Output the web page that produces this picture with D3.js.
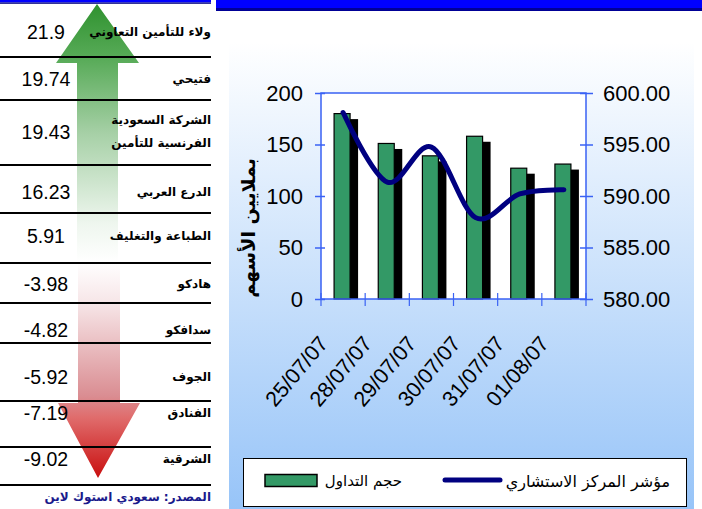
<!DOCTYPE html>
<html>
<head>
<meta charset="utf-8">
<script src="https://cdn.jsdelivr.net/npm/d3@7"></script>
<style>
  body { margin: 0; background: #fff; }
  svg { display: block; font-family: "Liberation Sans", Arial, sans-serif; }
  .ar { font-family: "DejaVu Sans", sans-serif; }
</style>
</head>
<body>
<div id="chart"></div>
<script>
// top movers table
const companies = [
    'ولاء للتأمين التعاوني',
    'فتيحي',
    'الشركة السعودية|الفرنسية للتأمين',
    'الدرع العربي',
    'الطباعة والتغليف',
    'هادكو',
    'سدافكو',
    'الجوف',
    'الفنادق',
    'الشرقية'
];
const changes = [21.9, 19.74, 19.43, 16.23, 5.91, -3.98, -4.82, -5.92, -7.19, -9.02];
const sourceText = 'المصدر: سعودي استوك لاين';

// chart
const dates = ['25/07/07', '28/07/07', '29/07/07', '30/07/07', '31/07/07', '01/08/07'];
const volume = [180, 151, 139, 158, 127, 131];
const indexValues = [598.1, 591.35, 594.75, 587.9, 590.2, 590.6];
const volumeTicks = [0, 50, 100, 150, 200];
const indexTicks = [580, 585, 590, 595, 600];
const volumeLabel = 'حجم التداول';
const indexLabel = 'مؤشر المركز الاستشاري';
const yTitle = 'بملايين الأسهم';

const width = 702;
const height = 509;

// table layout
const rowLines = [57, 100, 165, 213, 263, 303, 343, 401, 447, 485];
const rowTextY = [32, 79, 132, 192, 236, 284, 330, 377, 413, 459];

// plot layout
const plot = { left: 321, right: 586, top: 93, bottom: 299 };
const axisBlue = '#3a62f4';

const svg = d3.select('#chart').append('svg')
    .attr('width', width)
    .attr('height', height);

const defs = svg.append('defs');

function addGradient (id, stops, y1, y2) {
    const g = defs.append('linearGradient')
        .attr('id', id)
        .attr('gradientUnits', 'userSpaceOnUse')
        .attr('x1', 0).attr('x2', 0)
        .attr('y1', y1).attr('y2', y2);
    g.selectAll('stop')
        .data(stops)
        .enter()
        .append('stop')
        .attr('offset', d => d[0])
        .attr('stop-color', d => d[1]);
}

addGradient('bg-grad', [[0, '#ffffff'], [1, '#97c4f8']], 42, 509);
addGradient('up-grad', [[0, '#2f922f'], [0.22, '#5aac5a'], [0.5, '#a6d0a6'], [0.85, '#eef6ee'], [1, '#ffffff']], 4, 262);
addGradient('down-grad', [[0, '#ffffff'], [0.2, '#f6e4e6'], [0.62, '#da8d92'], [0.72, '#e06c6c'], [1, '#c90f0f']], 262, 478);

// ---- top bars
svg.append('rect').attr('x', 0).attr('y', 0).attr('width', 211).attr('height', 2.5).attr('fill', '#0000ff');
svg.append('rect').attr('x', 0).attr('y', 2.5).attr('width', 211).attr('height', 1.3).attr('fill', '#000080');
svg.append('rect').attr('x', 216).attr('y', 0).attr('width', 486).attr('height', 8).attr('fill', '#0000ff');
svg.append('rect').attr('x', 216).attr('y', 8).attr('width', 486).attr('height', 3).attr('fill', '#000096');

// ---- left table
const table = svg.append('g').attr('class', 'cdc-table');

const upArrow = [[97, 4], [139, 63], [118, 63], [118, 262], [77, 262], [77, 63], [56, 63]];
const downArrow = [[78, 262], [120, 262], [120, 403], [140, 403], [98, 478], [58, 403], [78, 403]];

table.append('path')
    .attr('d', d3.line()(upArrow) + 'Z')
    .attr('fill', 'url(#up-grad)');
table.append('path')
    .attr('d', d3.line()(downArrow) + 'Z')
    .attr('fill', 'url(#down-grad)');

table.selectAll('.cdc-row-line')
    .data(rowLines)
    .enter()
    .append('line')
    .attr('class', 'cdc-row-line')
    .attr('x1', 0).attr('x2', 211)
    .attr('y1', d => d).attr('y2', d => d)
    .attr('stroke', '#000')
    .attr('stroke-width', 2);

table.selectAll('.cdc-value')
    .data(changes)
    .enter()
    .append('text')
    .attr('class', 'cdc-value')
    .attr('x', 46)
    .attr('y', (d, i) => rowTextY[i])
    .attr('dy', '0.35em')
    .attr('text-anchor', 'middle')
    .attr('font-size', 19.5)
    .text(d => String(d));

table.selectAll('.cdc-name')
    .data(companies)
    .enter()
    .append('text')
    .attr('class', 'cdc-name ar')
    .attr('x', 211)
    .attr('y', (d, i) => rowTextY[i])
    .attr('text-anchor', 'end')
    .attr('font-weight', 'bold')
    .attr('font-size', 12)
    .each(function (d) {
        const lines = d.split('|');
        const off = lines.length === 1 ? [0] : [-12, 11];
        d3.select(this).selectAll('tspan')
            .data(lines)
            .enter()
            .append('tspan')
            .attr('x', 211)
            .attr('y', (l, j) => +d3.select(this).attr('y') + off[j])
            .attr('dy', '0.35em')
            .text(l => l);
    });

table.append('text')
    .attr('class', 'ar')
    .attr('x', 211)
    .attr('y', 497)
    .attr('dy', '0.35em')
    .attr('text-anchor', 'end')
    .attr('font-weight', 'bold')
    .attr('font-size', 12)
    .attr('fill', '#1a1a8c')
    .text(sourceText);

// ---- chart panel
svg.append('rect')
    .attr('x', 229).attr('y', 42)
    .attr('width', 465).attr('height', 467)
    .attr('fill', 'url(#bg-grad)');

const x = d3.scaleBand()
    .domain(dates)
    .range([plot.left, plot.right]);
const yVol = d3.scaleLinear()
    .domain([0, 200])
    .range([plot.bottom, plot.top]);
const yIdx = d3.scaleLinear()
    .domain([580, 600])
    .range([plot.bottom, plot.top]);

svg.append('rect')
    .attr('x', plot.left).attr('y', plot.top)
    .attr('width', plot.right - plot.left)
    .attr('height', plot.bottom - plot.top)
    .attr('fill', '#fff');

// bars with shadow
const barW = 16;
const bars = svg.append('g').attr('class', 'cdc-bars');
bars.selectAll('.cdc-shadow')
    .data(volume)
    .enter()
    .append('rect')
    .attr('class', 'cdc-shadow')
    .attr('x', (d, i) => x(dates[i]) + x.bandwidth() / 2 - 8.5 + 6.5)
    .attr('y', d => yVol(d) + 5.5)
    .attr('width', barW + 1)
    .attr('height', d => plot.bottom - yVol(d) - 5.5)
    .attr('fill', '#000');
bars.selectAll('.cdc-bar')
    .data(volume)
    .enter()
    .append('rect')
    .attr('class', 'cdc-bar')
    .attr('x', (d, i) => x(dates[i]) + x.bandwidth() / 2 - 9.5 + 0.5)
    .attr('y', d => yVol(d))
    .attr('width', barW)
    .attr('height', d => plot.bottom - yVol(d))
    .attr('fill', '#339966')
    .attr('stroke', '#000')
    .attr('stroke-width', 1.2);

// plot border
svg.append('rect')
    .attr('x', plot.left).attr('y', plot.top)
    .attr('width', plot.right - plot.left)
    .attr('height', plot.bottom - plot.top)
    .attr('fill', 'none')
    .attr('stroke', axisBlue)
    .attr('stroke-width', 1.5);

// index line
const line = d3.line()
    .x((d, i) => x(dates[i]) + x.bandwidth() / 2)
    .y(d => yIdx(d))
    .curve(d3.curveCardinal.tension(0));
svg.append('path')
    .attr('d', line(indexValues))
    .attr('fill', 'none')
    .attr('stroke', '#000080')
    .attr('stroke-width', 5)
    .attr('stroke-linecap', 'round')
    .attr('stroke-linejoin', 'round');

// axes
const leftAxis = svg.append('g')
    .attr('transform', `translate(${plot.left},0)`)
    .call(d3.axisLeft(yVol).tickValues(volumeTicks).tickSize(6).tickFormat(d3.format('d')));
leftAxis.select('.domain').remove();
leftAxis.selectAll('.tick line').attr('stroke', axisBlue).attr('x2', -6).attr('x1', 4).attr('stroke-width', 1.5);
leftAxis.selectAll('.tick text')
    .attr('x', -18)
    .attr('font-size', 22)
    .attr('font-family', '"Liberation Sans", Arial, sans-serif')
    .attr('fill', '#000');

const rightAxis = svg.append('g')
    .attr('transform', `translate(${plot.right},0)`)
    .call(d3.axisRight(yIdx).tickValues(indexTicks).tickSize(7).tickFormat(d3.format('.2f')));
rightAxis.select('.domain').remove();
rightAxis.selectAll('.tick line').attr('stroke', axisBlue).attr('x1', -6).attr('stroke-width', 1.5);
rightAxis.selectAll('.tick text')
    .attr('x', 17)
    .attr('font-size', 22)
    .attr('font-family', '"Liberation Sans", Arial, sans-serif')
    .attr('fill', '#000');

// bottom category ticks (between categories)
const bottomTicks = dates.map(d => x(d)).concat([plot.right]);
svg.selectAll('.cdc-xtick')
    .data(bottomTicks)
    .enter()
    .append('line')
    .attr('class', 'cdc-xtick')
    .attr('x1', d => d).attr('x2', d => d)
    .attr('y1', plot.bottom - 6).attr('y2', plot.bottom + 7)
    .attr('stroke', axisBlue)
    .attr('stroke-width', 1.2);

// date labels
svg.selectAll('.cdc-date')
    .data(dates)
    .enter()
    .append('text')
    .attr('class', 'cdc-date')
    .attr('transform', d => `translate(${x(d) + x.bandwidth() / 2 - 14},344) rotate(-50)`)
    .attr('text-anchor', 'end')
    .attr('font-size', 21.5)
    .attr('fill', '#000')
    .text(d => d);

// y title
svg.append('text')
    .attr('class', 'ar')
    .attr('transform', 'translate(248,228) rotate(-90)')
    .attr('text-anchor', 'middle')
    .attr('dy', '0.35em')
    .attr('font-weight', 'bold')
    .attr('font-size', 19)
    .text(yTitle);

// legend
const legend = svg.append('g').attr('class', 'cdc-legend');
legend.append('rect')
    .attr('x', 243.5).attr('y', 458.5)
    .attr('width', 443).attr('height', 48)
    .attr('fill', '#fff')
    .attr('stroke', '#000');
legend.append('rect')
    .attr('x', 265).attr('y', 474.5)
    .attr('width', 52).attr('height', 12)
    .attr('fill', '#339966')
    .attr('stroke', '#000')
    .attr('stroke-width', 1.5);
legend.append('text')
    .attr('class', 'ar')
    .attr('x', 402).attr('y', 481)
    .attr('dy', '0.35em')
    .attr('text-anchor', 'end')
    .attr('font-size', 15)
    .text(volumeLabel);
legend.append('line')
    .attr('x1', 445).attr('x2', 500)
    .attr('y1', 480).attr('y2', 480)
    .attr('stroke', '#000080')
    .attr('stroke-width', 5)
    .attr('stroke-linecap', 'round');
legend.append('text')
    .attr('class', 'ar')
    .attr('x', 670).attr('y', 481)
    .attr('dy', '0.35em')
    .attr('text-anchor', 'end')
    .attr('font-size', 16)
    .text(indexLabel);
</script>
</body>
</html>
